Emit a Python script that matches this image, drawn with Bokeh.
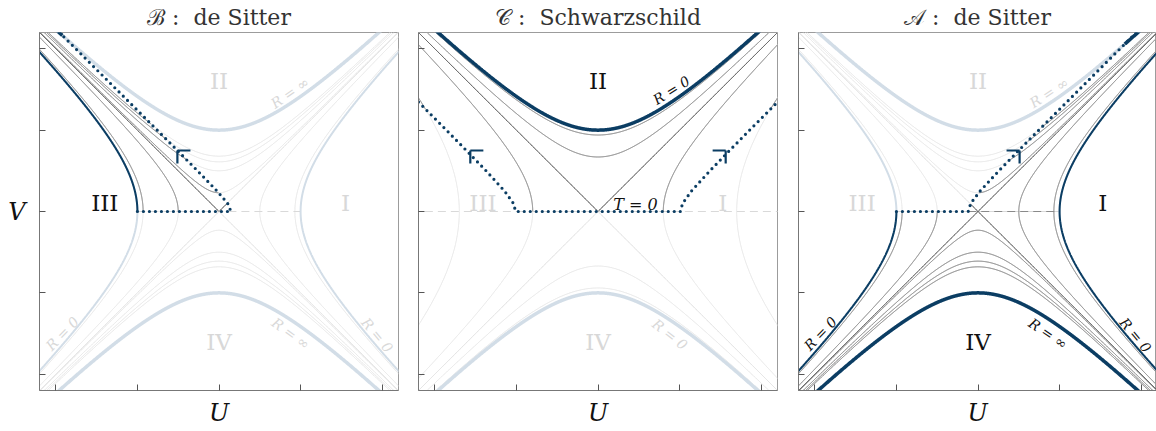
import numpy as np
from bokeh.plotting import figure
from bokeh.layouts import row
from bokeh.models import FixedTicker, Range1d, Title
from bokeh.core.properties import value
from bokeh.embed import file_html
from bokeh.resources import INLINE

# ---------------- data ----------------
TICKS = [-2, -1, 0, 1, 2]
LIM = 2.2

# de Sitter (panels B and A): vertex positions of the constant-R hyperbolas
DS_TIME_VERTEX = [0.5, 0.93]              # |U| at V=0, regions I / III
DS_SPACE_VERTEX = [0.23, 0.5, 0.61, 0.68]  # |V| at U=0, regions II / IV
DS_R0_VERTEX = [1.0]                      # R = 0
DS_RINF_VERTEX = [1.0]                    # R = inf
DS_T0_SPAN = [-1.0, 1.0]

# Schwarzschild (panel C)
SC_TIME_VERTEX = [0.8, 1.7]
SC_SPACE_VERTEX = [0.67, 0.94]
SC_R0_VERTEX = [1.0]
SC_T0_SPAN = [-2.6, 2.6]

# dotted patch boundaries
B_FLOOR_U = -1.0
B_EDGE_V = [0.0, 0.1, 0.25, 0.5, 0.75, 1.0, 1.5, 2.2]
B_EDGE_U = [0.147, 0.106, -0.022, -0.263, -0.51, -0.758, -1.256, -1.955]
A_FLOOR_U = -1.0
A_EDGE_V = [0.0, 0.1, 0.25, 0.5, 0.75, 1.0, 1.5, 2.2]
A_EDGE_U = [-0.12, -0.089, 0.024, 0.256, 0.499, 0.745, 1.242, 1.94]
C_EDGE_V = [0.0, 0.1, 0.25, 0.5, 0.75, 1.0, 1.345]
C_EDGE_U = [1.009, 1.037, 1.144, 1.371, 1.613, 1.858, 2.2]

# corner markers on the dotted boundaries
B_MARK_U, B_MARK_DIR = [-0.51], [1]
C_MARK_U, C_MARK_DIR = [-1.565, 1.565], [1, -1]
A_MARK_U, A_MARK_DIR = [0.51], [-1]
MARK_V = 0.75
MARK_LEN = 0.16

TITLES = ["\u212c :\u00a0 de Sitter", "\U0001d49e :\u00a0 Schwarzschild", "\U0001d49c :\u00a0 de Sitter"]
X_LABEL = "U"
Y_LABEL = "V"

# (text, U, V, size, dark, angle, italic)
B_LABELS = [
    ("II", 0.0, 1.6, 23, False, 0, False),
    ("I", 1.55, 0.1, 23, False, 0, False),
    ("III", -1.4, 0.1, 23, True, 0, False),
    ("IV", 0.0, -1.6, 23, False, 0, False),
    ("R = \u221e", 0.87, 1.46, 14, False, 35, True),
    ("R = 0", -1.92, -1.50, 14, False, 46, True),
    ("R = \u221e", 0.88, -1.50, 14, False, -36, True),
    ("R = 0", 1.94, -1.52, 14, False, -50, True),
]
C_LABELS = [
    ("II", 0.0, 1.6, 23, True, 0, False),
    ("R = 0", 0.90, 1.49, 14, True, 32, True),
    ("T = 0", 0.46, 0.09, 16, True, 0, True),
    ("III", -1.41, 0.1, 23, False, 0, False),
    ("I", 1.53, 0.1, 23, False, 0, False),
    ("IV", 0.0, -1.6, 23, False, 0, False),
    ("R = 0", 0.88, -1.51, 14, False, -38, True),
]
A_LABELS = [
    ("II", 0.0, 1.6, 23, False, 0, False),
    ("R = \u221e", 0.87, 1.46, 14, False, 33, True),
    ("III", -1.42, 0.1, 23, False, 0, False),
    ("I", 1.53, 0.1, 23, True, 0, False),
    ("IV", 0.0, -1.6, 23, True, 0, False),
    ("R = \u221e", 0.86, -1.50, 14, True, -34, True),
    ("R = 0", -1.93, -1.50, 14, True, 46, True),
    ("R = 0", 1.93, -1.52, 14, True, -50, True),
]

# ---------------- styles ----------------
FONT = "DejaVu Serif"
LIGHT_GRAY = "#e3e3e3"
DARK_GRAY = "#7d7d7d"
LIGHT_DIAG = "#d9d9d9"
DARK_DIAG = "#2e2e2e"
BLUE = "#0b3d63"
LIGHT_BLUE = "#d2dde7"
LIGHT_TEXT = "#d8d8d8"
DARK_TEXT = "#111111"
N = 1601
SPAN = 2.7


def spacelike(v0, sign):
    u = np.linspace(-SPAN, SPAN, N)
    return u, sign * np.sqrt(u ** 2 + v0 ** 2)


def timelike(u0, sign):
    v = np.linspace(-SPAN, SPAN, N)
    return sign * np.sqrt(v ** 2 + u0 ** 2), v


def diag(sign):
    u = np.linspace(-SPAN, SPAN, N)
    return u, sign * u


def hline(span):
    u = np.linspace(span[0], span[1], N)
    return u, np.zeros_like(u)


def curves(kind):
    """list of (u, v, light_color, dark_color, width, dash)"""
    out = []
    if kind == "ds":
        for u0 in DS_TIME_VERTEX:
            for s in (-1, 1):
                out.append((*timelike(u0, s), LIGHT_GRAY, DARK_GRAY, 1.0, "solid"))
        for v0 in DS_SPACE_VERTEX:
            for s in (-1, 1):
                out.append((*spacelike(v0, s), LIGHT_GRAY, DARK_GRAY, 1.0, "solid"))
        for s in (-1, 1):
            out.append((*diag(s), LIGHT_DIAG, DARK_DIAG, 0.9, "solid"))
        out.append((*hline(DS_T0_SPAN), LIGHT_DIAG, "#8a8a8a", 1.2, "8 5"))
        for u0 in DS_R0_VERTEX:
            for s in (-1, 1):
                out.append((*timelike(u0, s), LIGHT_BLUE, BLUE, 2.0, "solid"))
        for v0 in DS_RINF_VERTEX:
            for s in (-1, 1):
                out.append((*spacelike(v0, s), LIGHT_BLUE, BLUE, 3.5, "solid"))
    else:
        for u0 in SC_TIME_VERTEX:
            for s in (-1, 1):
                out.append((*timelike(u0, s), LIGHT_GRAY, DARK_GRAY, 1.0, "solid"))
        for v0 in SC_SPACE_VERTEX:
            for s in (-1, 1):
                out.append((*spacelike(v0, s), LIGHT_GRAY, DARK_GRAY, 1.0, "solid"))
        for s in (-1, 1):
            out.append((*diag(s), LIGHT_DIAG, DARK_DIAG, 0.9, "solid"))
        out.append((*hline(SC_T0_SPAN), LIGHT_DIAG, "#8a8a8a", 1.2, "8 5"))
        for v0 in SC_R0_VERTEX:
            for s in (-1, 1):
                out.append((*spacelike(v0, s), LIGHT_BLUE, BLUE, 3.5, "solid"))
    return out


def dom_B(u, v):
    return (v > 0) & (u <= np.interp(v, B_EDGE_V, B_EDGE_U))


def dom_A(u, v):
    return (v < 0) | (u >= np.interp(v, A_EDGE_V, A_EDGE_U))


def dom_C(u, v):
    return (v > 0) & (np.abs(u) <= np.interp(v, C_EDGE_V, C_EDGE_U))


def make_fig(frame_w, x_end, left, right, title, show_v):
    p = figure(title=None, frame_width=frame_w, frame_height=358,
               x_range=Range1d(-LIM, x_end), y_range=Range1d(-LIM, LIM),
               output_backend="svg", toolbar_location=None,
               min_border_left=left, min_border_right=right,
               min_border_top=31, min_border_bottom=40,
               background_fill_color="white", border_fill_color="white")
    p.add_layout(Title(text=title, text_font=FONT, text_font_size="22px",
                       text_font_style="normal", text_color="#333333",
                       align="center", standoff=5), "above")
    p.grid.visible = False
    p.outline_line_color = "#9c9c9c"
    p.outline_line_width = 1
    for ax in (p.xaxis, p.yaxis):
        ax.ticker = FixedTicker(ticks=TICKS)
        ax.major_label_overrides = {t: "" for t in TICKS}
        ax.minor_tick_line_color = None
        ax.major_tick_in = 6
        ax.major_tick_out = 0
        ax.major_tick_line_color = "#555555"
        ax.axis_line_color = "#777777"
        ax.major_label_text_font_size = "1px"
        ax.major_label_standoff = 0
        ax.axis_label_text_font = FONT
        ax.axis_label_text_font_size = "24px"
        ax.axis_label_text_font_style = "italic"
        ax.axis_label_text_color = "#111111"
    p.xaxis.axis_label = X_LABEL
    p.xaxis.axis_label_standoff = 8
    if show_v:
        p.yaxis.axis_label = Y_LABEL
        p.yaxis.axis_label_orientation = "horizontal"
        p.yaxis.axis_label_standoff = 14
    return p


def draw_panel(p, kind, dom, dot_u, dot_v, mark_u, mark_dir, labels):
    cs = curves(kind)
    for (u, v, lc, dc, w, dash) in cs:
        p.line(u, v, line_color=lc, line_width=w, line_dash=dash)
    for (u, v, lc, dc, w, dash) in cs:
        m = dom(u, v)
        if m.any():
            p.line(np.where(m, u, np.nan), np.where(m, v, np.nan),
                   line_color=dc, line_width=w, line_dash=dash)
    p.line(dot_u, dot_v, line_color=BLUE, line_width=3.2, line_dash="0 6", line_cap="round")
    mu = np.array(mark_u, dtype=float)
    md = np.array(mark_dir, dtype=float)
    mv = np.full_like(mu, MARK_V)
    p.segment(mu, mv, mu + md * MARK_LEN, mv, line_color=BLUE, line_width=2.2)
    p.segment(mu, mv, mu, mv - MARK_LEN, line_color=BLUE, line_width=2.2)
    for (t, x, y, size, dark, ang, ital) in labels:
        p.text(x=[x], y=[y], text=[t], text_font=value(FONT),
               text_font_size=f"{size}px", text_color=DARK_TEXT if dark else LIGHT_TEXT,
               text_font_style="italic" if ital else "normal",
               angle=ang, angle_units="deg", text_align="center", text_baseline="middle")


FW = 359
p1 = make_fig(FW, LIM, 39, 10, TITLES[0], True)
p2 = make_fig(FW, LIM, 10, 10, TITLES[1], False)
p3 = make_fig(358, -LIM + 358 * 2 * LIM / FW, 11, 0, TITLES[2], False)

draw_panel(p1, "ds", dom_B, [B_FLOOR_U] + B_EDGE_U, [0.0] + B_EDGE_V,
           B_MARK_U, B_MARK_DIR, B_LABELS)
draw_panel(p2, "sc", dom_C, [-x for x in C_EDGE_U[::-1]] + C_EDGE_U, C_EDGE_V[::-1] + C_EDGE_V,
           C_MARK_U, C_MARK_DIR, C_LABELS)
draw_panel(p3, "ds", dom_A, [A_FLOOR_U] + A_EDGE_U, [0.0] + A_EDGE_V,
           A_MARK_U, A_MARK_DIR, A_LABELS)

layout = row(p1, p2, p3)
open("out.html", "w").write(file_html(layout, INLINE))
